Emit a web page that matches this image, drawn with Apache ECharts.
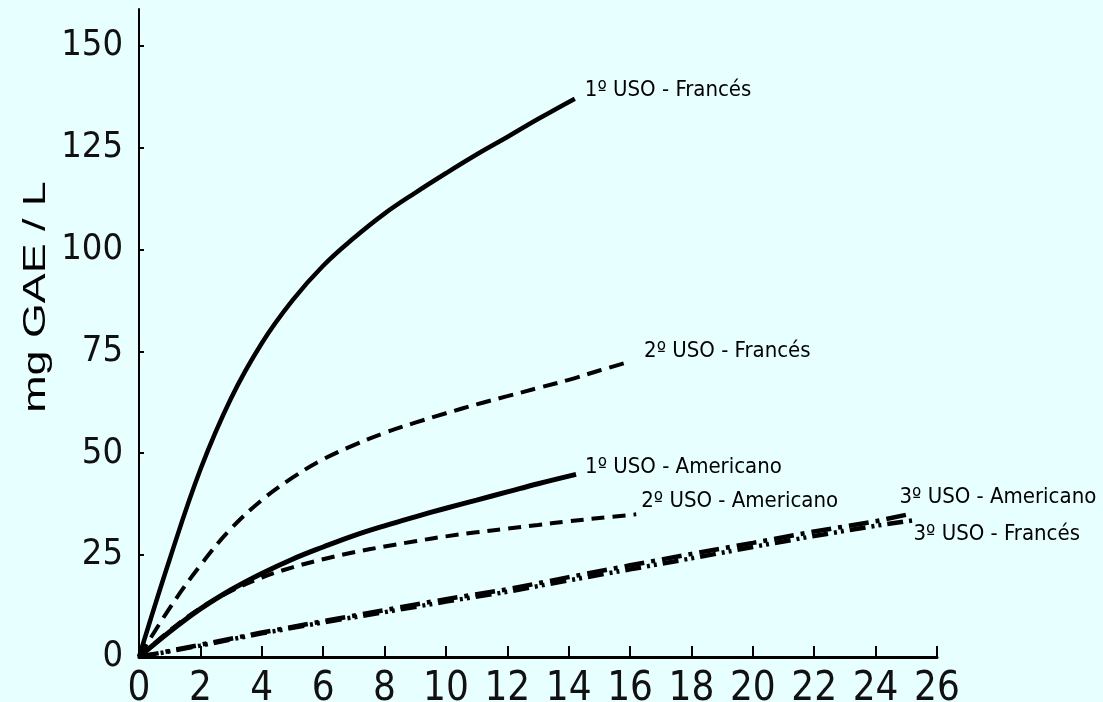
<!DOCTYPE html>
<html>
<head>
<meta charset="utf-8">
<title>mg GAE / L</title>
<script src="https://cdn.jsdelivr.net/npm/echarts@6/dist/echarts.min.js"></script>
<style>
  html, body { margin: 0; padding: 0; background: #e8ffff; }
  #chart { width: 1103px; height: 702px; }
</style>
</head>
<body>
<div id="chart"></div>
<script>
// Axis tick values
const xTickInterval = 2;
const yTickValues = [0, 25, 50, 75, 100, 125, 150];

// Series names (also used as end labels)
const names = [
  '1º USO - Francés',
  '2º USO - Francés',
  '1º USO - Americano',
  '2º USO - Americano',
  '3º USO - Americano',
  '3º USO - Francés'
];

// Time values (x) and concentrations (y) per series
const tFrances1 = [0, 1, 2, 3, 4, 5, 6, 7, 8, 9, 10, 11, 12, 13, 14.2];
const vFrances1 = [0, 24, 46, 63.5, 77, 87.5, 96, 102.8, 108.8, 113.9, 118.7, 123.3, 127.6, 132, 137];

const tFrances2 = [0, 1, 2, 3, 4, 5, 6, 7, 8, 9, 10, 11, 12, 13, 14, 15, 16];
const vFrances2 = [0, 12, 22.5, 31.5, 38.5, 44, 48.5, 52, 55, 57.5, 59.8, 62, 64, 66, 68, 70.3, 72.5];

const tAmericano1 = [0, 1, 2, 3, 4, 5, 6, 7, 8, 9, 10, 11, 12, 13, 14.24];
const vAmericano1 = [0, 6.2, 11.8, 16.5, 20.5, 24, 27, 29.8, 32.2, 34.4, 36.5, 38.5, 40.5, 42.5, 44.8];

const tAmericano2 = [0, 1, 2, 3, 4, 5, 6, 7, 8, 9, 10, 11, 12, 13, 14, 15, 16.2];
const vAmericano2 = [0, 6.5, 12, 16.2, 19.5, 22, 24, 25.7, 27.1, 28.4, 29.6, 30.6, 31.5, 32.4, 33.3, 34.1, 35];

const tAmericano3 = [0, 2, 4, 6, 8, 10, 12, 14, 16, 18, 20, 22, 24, 25.2];
const vAmericano3 = [0, 3, 6, 8.8, 11.5, 14.2, 16.6, 19.6, 22.5, 25.3, 28, 30.8, 33.3, 35.2];

const tFrances3 = [0, 2, 4, 6, 8, 10, 12, 14, 16, 18, 20, 22, 24, 25.2];
const vFrances3 = [0, 2.8, 5.8, 8.5, 11, 13.6, 16, 18.8, 21.5, 24.2, 27, 29.7, 32.2, 33.5];

function pairs(t, v) { return t.map((x, i) => [x, v[i]]); }

const narrow = "'Liberation Sans Narrow', 'Arial Narrow', 'DejaVu Sans Condensed', sans-serif";

function curve(name, t, v, width, dash, labelOffset, smooth) {
  return {
    name: name,
    type: 'line',
    data: pairs(t, v),
    showSymbol: false,
    symbol: 'none',
    smooth: smooth,
    lineStyle: { color: '#000', width: width, type: dash, cap: 'butt' },
    endLabel: {
      show: true,
      formatter: name,
      color: '#000',
      fontFamily: narrow,
      fontSize: 22,
      offset: labelOffset
    },
    z: 3
  };
}

const chart = echarts.init(document.getElementById('chart'), null, { renderer: 'canvas' });

chart.setOption({
  animation: false,
  backgroundColor: '#e8ffff',
  grid: { left: 139, right: 166, top: 9, bottom: 45, containLabel: false, outerBoundsMode: 'none' },
  xAxis: {
    type: 'value',
    min: 0,
    max: 26,
    interval: xTickInterval,
    axisLine: { show: true, lineStyle: { color: '#000', width: 3 } },
    axisTick: { show: true, inside: true, length: 11, lineStyle: { color: '#000', width: 2 } },
    axisLabel: { color: '#111', fontFamily: narrow, fontSize: 40, margin: 13 },
    splitLine: { show: false }
  },
  yAxis: {
    type: 'value',
    min: 0,
    max: 159,
    axisLine: { show: true, lineStyle: { color: '#000', width: 2 } },
    axisTick: { show: true, inside: true, length: 5, customValues: yTickValues, lineStyle: { color: '#000', width: 2 } },
    axisLabel: { color: '#111', fontFamily: narrow, fontSize: 36, margin: 16, customValues: yTickValues },
    splitLine: { show: false }
  },
  graphic: [{
    type: 'text',
    x: 36,
    y: 297,
    rotation: Math.PI / 2,
    scaleX: 1.4,
    scaleY: 1,
    style: {
      text: 'mg GAE / L',
      fill: '#000',
      font: "32px 'Liberation Sans', Arial, sans-serif",
      textAlign: 'center',
      textVerticalAlign: 'middle'
    }
  }],
  series: [
    curve(names[0], tFrances1, vFrances1, 4.5, 'solid', [2, -8], 0.4),
    curve(names[1], tFrances2, vFrances2, 4, [15, 8], [6, -10], 0.4),
    curve(names[2], tAmericano1, vAmericano1, 5, 'solid', [1, -7], 0.4),
    curve(names[3], tAmericano2, vAmericano2, 4, [13, 8], [-3, -13], 0.4),
    curve(names[4], tAmericano3, vAmericano3, 4.5, [20, 7, 4, 7], [-21, -16], 0),
    curve(names[5], tFrances3, vFrances3, 4.5, [16, 6, 3, 4, 3, 6], [-7, 14], 0)
  ]
});
</script>
</body>
</html>
